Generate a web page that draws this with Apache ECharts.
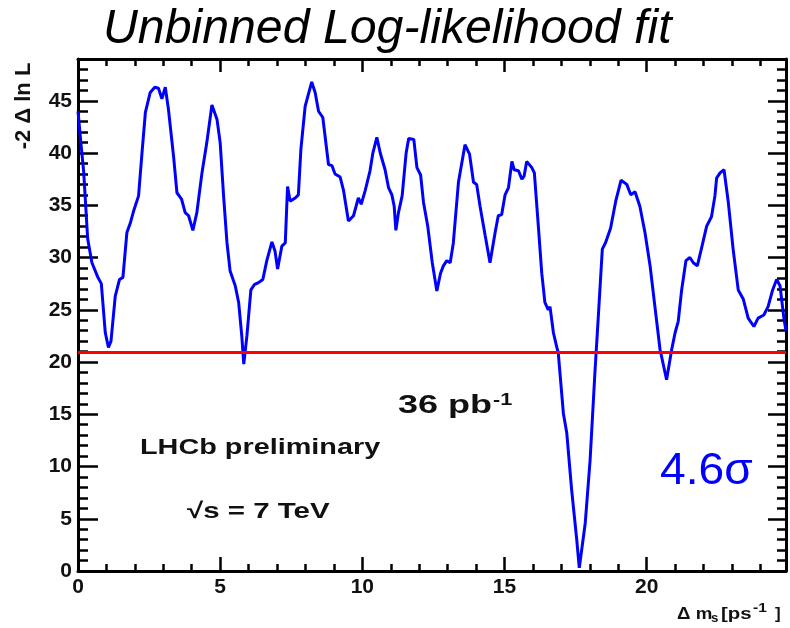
<!DOCTYPE html>
<html>
<head>
<meta charset="utf-8">
<script src="https://cdn.jsdelivr.net/npm/echarts@6/dist/echarts.min.js"></script>
<style>
  html, body { margin: 0; padding: 0; background: #fff; }
  #chartBox { width: 790px; height: 628px; }
</style>
</head>
<body>
<div id="chartBox"></div>
<script>
// delta m_s [ps^-1] and -2 delta ln L
const deltaMs = [
  0.00, 0.10, 0.20, 0.34, 0.49, 0.70, 0.82, 0.96, 1.07, 1.16,
  1.31, 1.46, 1.58, 1.72, 1.84, 1.95, 2.13, 2.25, 2.37, 2.54,
  2.70, 2.83, 2.95, 3.07, 3.18, 3.36, 3.48, 3.64, 3.77, 3.89,
  4.04, 4.18, 4.36, 4.53, 4.71, 4.89, 5.00, 5.12, 5.24, 5.35,
  5.53, 5.65, 5.76, 5.83, 5.94, 6.08, 6.20, 6.35, 6.50, 6.64,
  6.82, 6.93, 7.02, 7.17, 7.29, 7.37, 7.46, 7.64, 7.75, 7.84,
  7.99, 8.22, 8.34, 8.46, 8.61, 8.73, 8.81, 8.93, 9.04, 9.22,
  9.34, 9.51, 9.69, 9.86, 9.96, 10.10, 10.27, 10.37, 10.51, 10.63,
  10.80, 10.92, 11.04, 11.12, 11.18, 11.27, 11.40, 11.54, 11.63, 11.81,
  11.92, 12.05, 12.15, 12.30, 12.46, 12.62, 12.75, 12.85, 12.97, 13.09,
  13.20, 13.38, 13.61, 13.77, 13.91, 14.02, 14.14, 14.32, 14.49, 14.67,
  14.78, 14.90, 15.02, 15.14, 15.26, 15.34, 15.49, 15.61, 15.69, 15.78,
  15.96, 16.05, 16.19, 16.31, 16.42, 16.54, 16.60, 16.72, 16.84, 16.89,
  17.07, 17.19, 17.36, 17.54, 17.63, 17.84, 18.01, 18.18, 18.30, 18.44,
  18.55, 18.73, 18.92, 19.10, 19.30, 19.44, 19.59, 19.76, 19.94, 20.12,
  20.29, 20.47, 20.70, 20.88, 21.00, 21.11, 21.23, 21.38, 21.52, 21.64,
  21.78, 21.93, 22.11, 22.28, 22.40, 22.46, 22.58, 22.72, 22.87, 23.04,
  23.22, 23.40, 23.57, 23.77, 23.92, 24.12, 24.27, 24.43, 24.57, 24.69,
  24.83, 24.90
];
const nllValues = [
  44.0, 41.0, 38.2, 31.8, 29.5, 28.1, 27.5, 22.8, 21.4, 22.0,
  26.3, 27.9, 28.1, 32.4, 33.3, 34.4, 35.9, 40.0, 43.9, 45.8,
  46.3, 46.2, 45.2, 46.3, 44.2, 39.7, 36.2, 35.6, 34.3, 34.0,
  32.6, 34.3, 38.1, 41.0, 44.6, 43.2, 41.0, 35.9, 31.4, 28.7,
  27.3, 25.7, 22.5, 19.8, 22.5, 26.9, 27.4, 27.6, 27.9, 29.7,
  31.5, 30.6, 28.9, 31.1, 31.4, 36.8, 35.4, 35.7, 36.0, 40.4,
  44.5, 46.8, 45.8, 44.0, 43.4, 40.7, 38.9, 38.8, 38.0, 37.7,
  36.4, 33.5, 34.0, 35.7, 35.1, 36.4, 38.3, 40.0, 41.5, 40.0,
  38.4, 36.7, 36.0, 34.9, 32.6, 34.3, 35.9, 40.0, 41.4, 41.3,
  38.6, 37.9, 35.3, 33.0, 29.5, 26.8, 28.5, 29.2, 29.7, 29.5,
  31.4, 37.2, 40.8, 39.9, 37.2, 37.0, 34.9, 32.1, 29.5, 32.4,
  34.0, 34.1, 36.0, 36.7, 39.2, 38.4, 38.3, 37.5, 37.8, 39.2,
  38.6, 38.1, 33.0, 28.5, 25.7, 25.0, 25.3, 22.8, 21.4, 20.9,
  15.1, 13.2, 7.8, 3.0, 0.3, 4.6, 10.6, 19.0, 24.4, 30.8,
  31.4, 32.8, 35.5, 37.4, 37.0, 36.0, 36.3, 34.9, 32.4, 29.2,
  25.3, 21.2, 18.3, 21.2, 22.8, 23.9, 26.9, 29.7, 30.0, 29.5,
  29.2, 30.9, 33.0, 33.9, 35.9, 37.6, 38.1, 38.4, 35.3, 30.8,
  26.9, 26.0, 24.2, 23.4, 24.2, 24.5, 25.3, 26.9, 27.9, 27.3,
  24.1, 23.0
];
const thresholdLevel = 20.9;
const xRange = [0, 24.9];
const yRange = [0, 49];

const chartFun = () => {
  const chartDom = document.getElementById("chartBox");
  const myChart = echarts.init(chartDom, null, { renderer: "canvas" });

  const font = '"Liberation Sans", Arial, Helvetica, sans-serif';
  const labelStyle = {
    fontFamily: font,
    fontSize: 21,
    fontWeight: "bold",
    color: "#111",
  };
  const tickLine = { color: "#000", width: 2.5 };
  const frameLine = { color: "#000", width: 3 };

  const makeX = (position, interval, len, major) => ({
    type: "value",
    position: position,
    min: xRange[0],
    max: xRange[1],
    interval: interval,
    axisLine: { show: major, onZero: false, lineStyle: frameLine },
    axisTick: { show: true, inside: true, length: len, lineStyle: tickLine },
    axisLabel: position === "bottom" && major
      ? Object.assign({ margin: 6, showMaxLabel: false }, labelStyle)
      : { show: false },
    splitLine: { show: false },
  });
  const makeY = (position, interval, len, major) => ({
    type: "value",
    position: position,
    min: yRange[0],
    max: yRange[1],
    interval: interval,
    axisLine: { show: major, onZero: false, lineStyle: frameLine },
    axisTick: { show: true, inside: true, length: len, lineStyle: tickLine },
    axisLabel: position === "left" && major
      ? Object.assign({ margin: 6, showMaxLabel: false }, labelStyle)
      : { show: false },
    splitLine: { show: false },
  });

  const text = (str, x, y, size, opts) =>
    Object.assign(
      {
        type: "text",
        x: x,
        y: y,
        silent: true,
        style: {
          text: str,
          font: (opts && opts.font) || "bold " + size + "px " + font,
          fill: (opts && opts.fill) || "#111",
          align: (opts && opts.align) || "left",
          textAlign: (opts && opts.align) || "left",
          verticalAlign: "middle",
          textVerticalAlign: "middle",
        },
      },
      opts && opts.el
    );

  const option = {
    animation: false,
    backgroundColor: "#fff",
    grid: {
      left: 78,
      right: 4,
      top: 59,
      bottom: 57,
      outerBoundsMode: "none",
    },
    xAxis: [
      makeX("bottom", 5, 14, true),
      makeX("bottom", 1, 7, false),
      makeX("top", 5, 13, true),
      makeX("top", 1, 7, false),
    ],
    yAxis: [
      makeY("left", 5, 20, true),
      makeY("left", 1, 10, false),
      makeY("right", 5, 18, true),
      makeY("right", 1, 9, false),
    ],
    graphic: [
      text("Unbinned Log-likelihood fit", 103, 30, 48, {
        font: "italic 48px " + font,
        fill: "#000",
        el: { scaleX: 1.005 },
      }),
      text("-2 \u0394 ln L", 23.5, 106, 22, {
        align: "center",
        el: { rotation: Math.PI / 2 },
      }),
      text("LHCb preliminary", 140, 448, 22, { el: { scaleX: 1.31 } }),
      text("\u221As = 7 TeV", 187, 512, 22, { el: { scaleX: 1.34 } }),
      text("36 pb", 398, 406, 25, { el: { scaleX: 1.44 } }),
      text("-1", 493, 401, 16, { el: { scaleX: 1.35 } }),
      text("4.6\u03C3", 660, 472, 44, {
        font: "44px " + font,
        fill: "#0000ff",
        el: { scaleX: 1.05 },
      }),
      text("\u0394 m", 677, 614, 17, { el: { scaleX: 1.1 } }),
      text("s", 711, 619, 12, { el: { scaleX: 1.1 } }),
      text("[ps", 721, 614, 17, { el: { scaleX: 1.2 } }),
      text("-1", 753, 609, 12, { el: { scaleX: 1.3 } }),
      text("]", 775, 614, 17, {}),
    ],
    series: [
      {
        name: "-2 \u0394 ln L",
        type: "line",
        xAxisIndex: 0,
        yAxisIndex: 0,
        symbol: "none",
        smooth: false,
        clip: true,
        lineStyle: { color: "#0000ff", width: 3 },
        data: deltaMs.map((x, i) => [x, nllValues[i]]),
        markLine: {
          silent: true,
          symbol: ["none", "none"],
          label: { show: false },
          lineStyle: { color: "#ff0000", width: 3, type: "solid" },
          data: [{ yAxis: thresholdLevel }],
        },
      },
    ],
  };
  myChart.setOption(option);
};

chartFun();
</script>
</body>
</html>
